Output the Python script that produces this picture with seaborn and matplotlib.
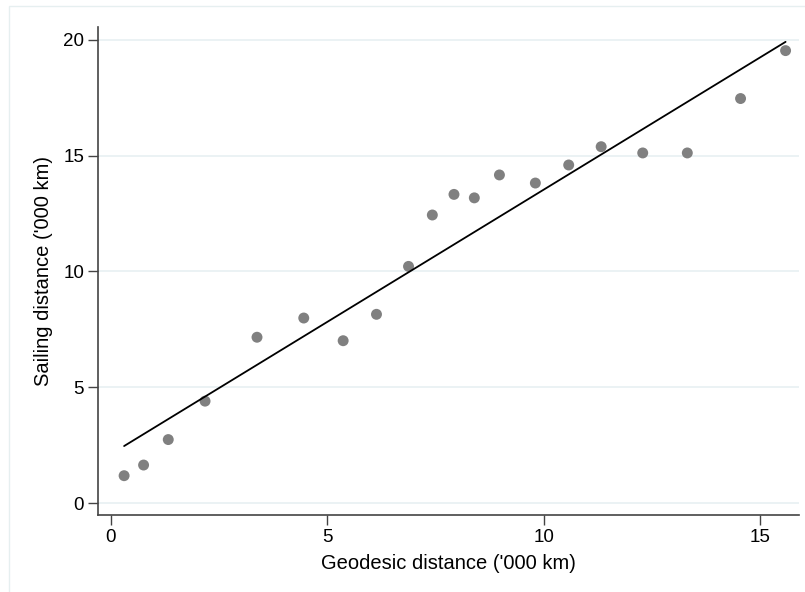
import numpy as np
import pandas as pd
import matplotlib
matplotlib.use("Agg")
import matplotlib.pyplot as plt
import seaborn as sns
from matplotlib.patches import Rectangle

# geodesic vs sailing distance, thousand km
geodesic = [0.31, 0.76, 1.33, 2.18, 3.38, 4.46, 5.37, 6.14, 6.88, 7.43, 7.93,
            8.40, 8.98, 9.81, 10.58, 11.33, 12.29, 13.32, 14.55, 15.59]
sailing = [1.18, 1.64, 2.74, 4.40, 7.16, 7.99, 7.01, 8.15, 10.22, 12.44, 13.33,
           13.18, 14.17, 13.82, 14.60, 15.39, 15.12, 15.12, 17.47, 19.54]
xticks = [0, 5, 10, 15]
yticks = [0, 5, 10, 15, 20]

df = pd.DataFrame({"geo": geodesic, "sail": sailing})

sns.set_style("white")
plt.rcParams["font.family"] = ["Liberation Sans", "DejaVu Sans"]
plt.rcParams["text.color"] = "black"
plt.rcParams["axes.labelcolor"] = "black"
plt.rcParams["xtick.labelcolor"] = "black"
plt.rcParams["ytick.labelcolor"] = "black"

fig = plt.figure(figsize=(8.05, 5.92), dpi=100)
ax = fig.add_axes([98 / 805, 1 - 515 / 592, (799 - 98) / 805, (515 - 27) / 592])

# light outer frame like the stata graph region
fig.patches.append(Rectangle((9 / 805, -0.1), 1.2, 1 - 6 / 592 + 0.1, transform=fig.transFigure,
                             fill=False, edgecolor="#e6eff0", linewidth=1.0))

for yt in yticks:
    ax.axhline(yt, color="#e8f0f2", linewidth=1.2, zorder=0)

sns.regplot(data=df, x="geo", y="sail", ax=ax, ci=None,
            scatter_kws=dict(s=62, color="#808080", edgecolor="none", alpha=1, zorder=3),
            line_kws=dict(color="black", linewidth=1.3, zorder=4))

ax.set_xlim(-0.293, 15.90)
ax.set_ylim(-0.518, 20.56)
ax.set_xticks(xticks)
ax.set_yticks(yticks)
ax.tick_params(axis="both", direction="out", length=7, width=1, color="#444444",
               labelsize=13.5, pad=3, left=True, bottom=True)
ax.set_yticklabels([str(t) for t in yticks], rotation=0)

for s in ["top", "right"]:
    ax.spines[s].set_visible(False)
for s in ["left", "bottom"]:
    ax.spines[s].set_color("#444444")
    ax.spines[s].set_linewidth(1.2)

ax.set_xlabel("Geodesic distance ('000 km)", fontsize=14.5, labelpad=6)
ax.set_ylabel("Sailing distance ('000 km)", fontsize=14.5, labelpad=7)

fig.savefig("out.png", dpi=100)
